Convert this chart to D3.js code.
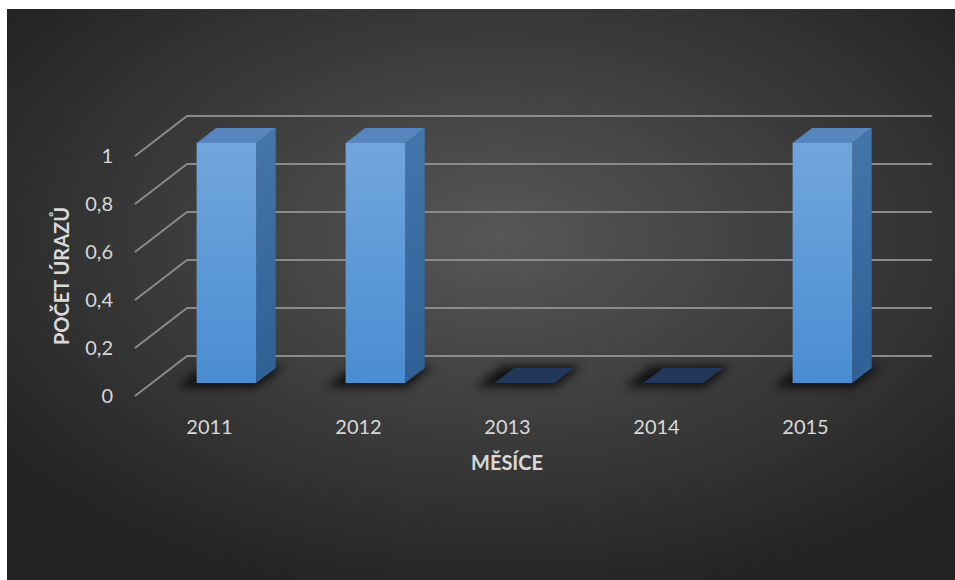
<!DOCTYPE html>
<html>
<head>
<meta charset="utf-8">
<script src="https://cdn.jsdelivr.net/npm/d3@7"></script>
<style>
body { margin: 0; background: #fff; }
text { font-family: Lato, "Open Sans", sans-serif; }
</style>
</head>
<body>
<svg width="955" height="580"></svg>
<script>
var categories = ["2011", "2012", "2013", "2014", "2015"];
var values = [1, 1, 0, 0, 1];
var yTicks = [0, 0.2, 0.4, 0.6, 0.8, 1];
var yTickLabels = ["0", "0,2", "0,4", "0,6", "0,8", "1"];

var svg = d3.select("svg");
var defs = svg.append("defs");

// background gradient
var bg = defs.append("radialGradient")
    .attr("id", "bg")
    .attr("cx", "52%").attr("cy", "40%").attr("r", "65%");
bg.append("stop").attr("offset", "0%").attr("stop-color", "#575757");
bg.append("stop").attr("offset", "100%").attr("stop-color", "#232323");

var front = defs.append("linearGradient")
    .attr("id", "front").attr("x1", 0).attr("y1", 0).attr("x2", 0).attr("y2", 1);
front.append("stop").attr("offset", "0%").attr("stop-color", "#71a6dd");
front.append("stop").attr("offset", "100%").attr("stop-color", "#4a8dd2");

var side = defs.append("linearGradient")
    .attr("id", "side").attr("x1", 0).attr("y1", 0).attr("x2", 0).attr("y2", 1);
side.append("stop").attr("offset", "0%").attr("stop-color", "#4576ab");
side.append("stop").attr("offset", "100%").attr("stop-color", "#2f5f95");

defs.append("filter").attr("id", "blur")
    .attr("x", "-50%").attr("y", "-50%").attr("width", "200%").attr("height", "200%")
    .append("feGaussianBlur").attr("stdDeviation", 5);

svg.append("rect")
    .attr("x", 7).attr("y", 9)
    .attr("width", 948).attr("height", 571)
    .style("fill", "url(#bg)");

// back wall scales, depth goes toward the viewer
var x = d3.scaleBand().domain(categories).range([187, 932]);
var y = d3.scaleLinear().domain([0, 1]).range([356, 116]);
var depthX = -52, depthY = 40;
var tFront = 0.675, tBack = 0.3;
var barW = x.bandwidth() * 0.4;

function pt(xb, v, t) {
    return [xb + t * depthX, y(v) + t * depthY];
}
function poly(pts) {
    return pts.map(function(p) { return p.join(","); }).join(" ");
}

// gridlines
svg.selectAll(".grid")
    .data(yTicks)
    .enter().append("polyline")
    .attr("class", "grid")
    .attr("points", function(d) {
        return poly([pt(x.range()[0], d, 1), pt(x.range()[0], d, 0), pt(x.range()[1], d, 0)]);
    })
    .style("fill", "none")
    .style("stroke", "#8a8a8a")
    .style("stroke-width", 2);

svg.selectAll(".ytick")
    .data(yTicks)
    .enter().append("text")
    .attr("class", "ytick")
    .attr("x", 113)
    .attr("y", function(d) { return y(d) + depthY; })
    .attr("dy", "0.35em")
    .attr("text-anchor", "end")
    .style("fill", "#d9d9d9")
    .style("font-size", "20px")
    .text(function(d, i) { return yTickLabels[i]; });

var bars = svg.selectAll(".bar")
    .data(categories)
    .enter().append("g")
    .attr("class", "bar");

// shadow on the floor
bars.append("polygon")
    .attr("points", function(d) {
        var x0 = x(d) + (x.bandwidth() - barW) / 2 - 14, x1 = x0 + barW + 20;
        return poly([pt(x0, 0, 0.78), pt(x1, 0, 0.78), pt(x1, 0, 0.25), pt(x0, 0, 0.25)]);
    })
    .attr("filter", "url(#blur)")
    .style("fill", "#000")
    .style("opacity", 0.75);

bars.each(function(d, i) {
    var g = d3.select(this);
    var v = values[i];
    var x0 = x(d) + (x.bandwidth() - barW) / 2, x1 = x0 + barW;
    if (v == 0) {
        g.append("polygon")
            .attr("points", poly([pt(x0, 0, tFront), pt(x1, 0, tFront), pt(x1, 0, tBack), pt(x0, 0, tBack)]))
            .style("fill", "#22385a");
        return;
    }
    g.append("polygon")
        .attr("points", poly([pt(x1, v, tFront), pt(x1, v, tBack), pt(x1, 0, tBack), pt(x1, 0, tFront)]))
        .style("fill", "url(#side)");
    g.append("polygon")
        .attr("points", poly([pt(x0, v, tFront), pt(x1, v, tFront), pt(x1, v, tBack), pt(x0, v, tBack)]))
        .style("fill", "#5686bd");
    g.append("polygon")
        .attr("points", poly([pt(x0, v, tFront), pt(x1, v, tFront), pt(x1, 0, tFront), pt(x0, 0, tFront)]))
        .style("fill", "url(#front)");
});

svg.selectAll(".xtick")
    .data(categories)
    .enter().append("text")
    .attr("class", "xtick")
    .attr("x", function(d) { return x(d) + x.bandwidth() / 2 + depthX; })
    .attr("y", y(0) + depthY + 31)
    .attr("dy", "0.35em")
    .attr("text-anchor", "middle")
    .style("fill", "#d9d9d9")
    .style("font-size", "20px")
    .text(function(d) { return d; });

svg.append("text")
    .attr("x", 507)
    .attr("y", 463)
    .attr("dy", "0.35em")
    .attr("text-anchor", "middle")
    .style("fill", "#d9d9d9")
    .style("font-size", "20px")
    .style("font-weight", "bold")
    .text("MĚSÍCE");

svg.append("text")
    .attr("transform", "translate(62,276) rotate(-90)")
    .attr("dy", "0.35em")
    .attr("text-anchor", "middle")
    .style("fill", "#d9d9d9")
    .style("font-size", "20px")
    .style("font-weight", "bold")
    .text("POČET ÚRAZŮ");
</script>
</body>
</html>
